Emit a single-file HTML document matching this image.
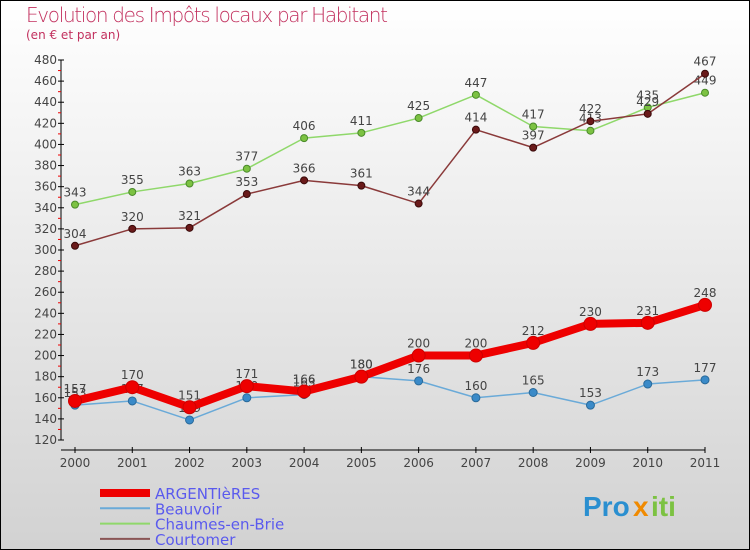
<!DOCTYPE html>
<html><head><meta charset="utf-8"><style>
html,body{margin:0;padding:0}
body{width:750px;height:550px;overflow:hidden;font-family:"DejaVu Sans","Liberation Sans",sans-serif}
svg{display:block}
</style></head><body>
<svg id="c" width="750" height="550" xmlns="http://www.w3.org/2000/svg">
<defs><linearGradient id="bg" x1="0" y1="0" x2="0" y2="1"><stop offset="0" stop-color="#ffffff"/><stop offset="1" stop-color="#d2d2d2"/></linearGradient></defs>
<rect x="0.5" y="0.5" width="749" height="549" fill="url(#bg)" stroke="#000"/>
<text x="26" y="22" font-size="20" fill="#c2305e" font-family="DejaVu Sans, sans-serif" style="font-weight:200" textLength="362">Evolution des Impôts locaux par Habitant</text>
<text x="26" y="39" font-size="12" fill="#c2305e">(en € et par an)</text>
<g id="axes"></g><g id="series"></g><g id="legend"></g>
<g font-family="Liberation Sans, sans-serif" font-weight="bold" font-size="28">
<text x="583" y="516" fill="#2a8fd0">Pro</text><text x="633" y="516" fill="#f08a00">x</text><text x="651" y="516" fill="#7cc242">iti</text></g>
</svg>
<script>
const years=[2000,2001,2002,2003,2004,2005,2006,2007,2008,2009,2010,2011];
const argentieres=[157,170,151,171,166,180,200,200,212,230,231,248];
const beauvoir=[153,157,139,160,163,180,176,160,165,153,173,177];
const chaumes=[343,355,363,377,406,411,425,447,417,413,435,449];
const courtomer=[304,320,321,353,366,361,344,414,397,422,429,467];
const yTicks=[120,140,160,180,200,220,240,260,280,300,320,340,360,380,400,420,440,460,480];
const NS="http://www.w3.org/2000/svg";
function X(i){return 75+i*(630/11);}
function Y(v){return 440-(v-120)*(380/360);}
function mk(t,a,p){const e=document.createElementNS(NS,t);for(const k in a)e.setAttribute(k,a[k]);p.appendChild(e);return e;}
const ax=document.getElementById('axes');
let e=mk('line',{x1:61,y1:Y(480),x2:61,y2:Y(120),stroke:'#000'},ax);

e=mk('line',{x1:61,y1:450,x2:X(11),y2:450,stroke:'#000'},ax);

yTicks.forEach(v=>{mk('line',{x1:58,y1:Y(v),x2:64,y2:Y(v),stroke:'#000'},ax);
 if(v<480)mk('line',{x1:58,y1:Y(v+10),x2:61,y2:Y(v+10),stroke:'#e00'},ax);
 const t=mk('text',{x:57,y:Y(v)+4,'font-size':12,'text-anchor':'end',fill:'#444'},ax);t.textContent=v;
 });
years.forEach((y,i)=>{mk('line',{x1:X(i),y1:447,x2:X(i),y2:453,stroke:'#000'},ax);
 const t=mk('text',{x:X(i),y:467,'font-size':12,'text-anchor':'middle',fill:'#444'},ax);t.textContent=y;
 });
const sg=document.getElementById('series');
function draw(vals,name,color,w,dot,r,dotStroke){
 const g=mk('g',{},sg);
 mk('polyline',{points:vals.map((v,i)=>X(i)+','+Y(v)).join(' '),fill:'none',stroke:color,'stroke-width':w,'stroke-linejoin':'round'},g);
 vals.forEach((v,i)=>{const c=mk('circle',{cx:X(i),cy:Y(v),r:r,fill:dot,stroke:dotStroke,'stroke-width':1},g);
  
  const t=mk('text',{x:X(i),y:Y(v)-8,'font-size':12,'text-anchor':'middle',fill:'#444'},g);t.textContent=v;
  });
}
draw(chaumes,'chaumes-en-brie','#8fd86a',1.5,'#7cc242',3.5,'#4a8a2a');
draw(courtomer,'courtomer','#8a3a3a',1.5,'#6a1a1a',3.5,'#3a0a0a');
draw(beauvoir,'beauvoir','#6aaad8',1.5,'#3a8ac8',4,'#2a6a9a');
draw(argentieres,'argentieres','#ee0000',8,'#ee0000',6.5,'#cc0000');
const lg=document.getElementById('legend');
[['ARGENTIèRES','#ee0000',8],['Beauvoir','#6aaad8',2],['Chaumes-en-Brie','#8fd86a',2],['Courtomer','#8a5555',2]].forEach((d,i)=>{
 const y=493+i*15.3;
 const g=mk('g',{},lg);
 mk('line',{x1:100,y1:y,x2:150,y2:y,stroke:d[1],'stroke-width':d[2]},g);
 const t=mk('text',{x:155,y:y+6,'font-size':15,fill:'#5a5aee'},g);t.textContent=d[0];
});
</script>
</body></html>
